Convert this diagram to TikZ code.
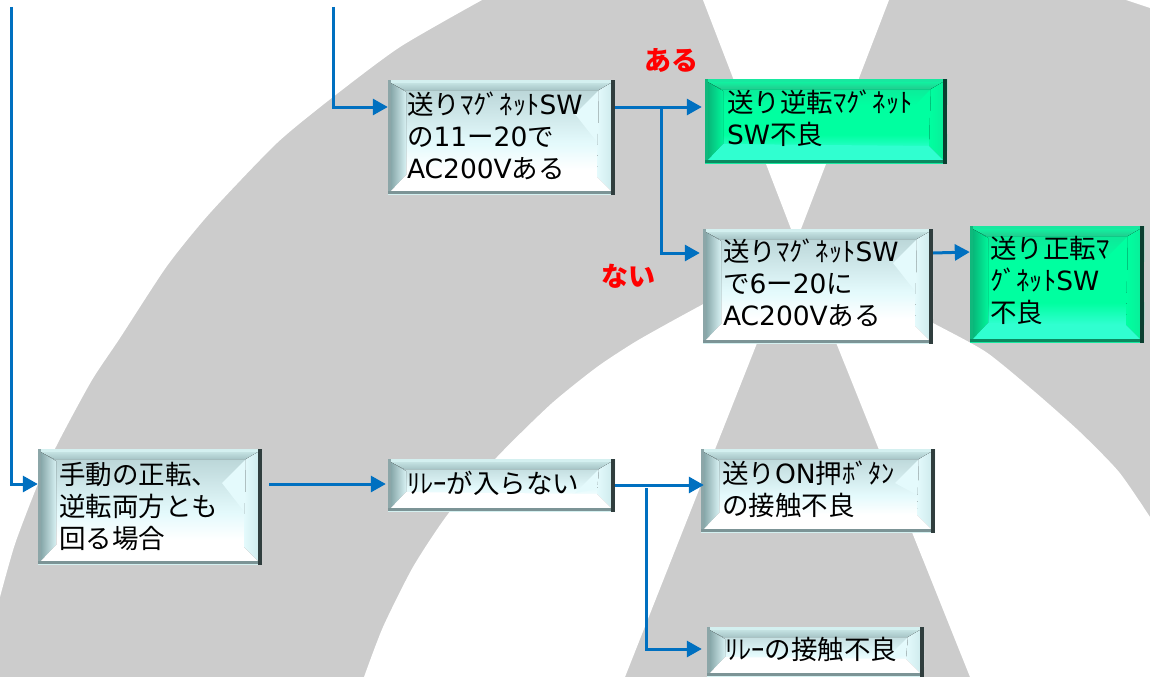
\documentclass[tikz,border=0pt]{standalone}
\usepackage{fontspec}
\usetikzlibrary{arrows.meta}
\setmainfont{Noto Sans CJK JP}
\newfontfamily\latf{DejaVu Sans}
\newcommand\la[1]{{\latf #1}}
% bevel palettes
\definecolor{cyFT}{HTML}{B4D0D2}\definecolor{cyFM}{HTML}{E4FAFC}\definecolor{cyFB}{HTML}{FFFFFF}
\definecolor{cyTA}{HTML}{C4E2E2}\definecolor{cyTB}{HTML}{A6C4C6}
\definecolor{cyLA}{HTML}{88A8AA}\definecolor{cyLB}{HTML}{D6F0F2}
\definecolor{cyRA}{HTML}{E4FAFC}\definecolor{cyRB}{HTML}{D0ECEE}
\definecolor{cyRim}{HTML}{D4F0F0}\definecolor{cyEL}{HTML}{8CA6A8}
\definecolor{cyER}{HTML}{303E3E}\definecolor{cyEB}{HTML}{7C9496}
\def\cystopA{.55}\def\cystopB{.56}\def\cystopC{.78}
\definecolor{grFT}{HTML}{12E096}\definecolor{grFM}{HTML}{00FFA0}\definecolor{grFB}{HTML}{30FFD0}
\definecolor{grTA}{HTML}{12F0A0}\definecolor{grTB}{HTML}{22CC8E}
\definecolor{grLA}{HTML}{08B87A}\definecolor{grLB}{HTML}{00F59A}
\definecolor{grRA}{HTML}{00FFA0}\definecolor{grRB}{HTML}{08F09A}
\definecolor{grRim}{HTML}{18E8A0}\definecolor{grEL}{HTML}{10B87C}
\definecolor{grER}{HTML}{0A3F30}\definecolor{grEB}{HTML}{0A8A60}
\def\grstopA{.3}\def\grstopB{.66}\def\grstopC{.84}
\definecolor{bgGray}{HTML}{CCCCCC}
\definecolor{lnBlue}{HTML}{0070C0}
\newcommand\bevelpic[3]{% palette, x1, y1
  \pgfmathsetmacro\ya{\bh*\csname #1stopA\endcsname}%
  \pgfmathsetmacro\yb{\bh*\csname #1stopB\endcsname}%
  \pgfmathsetmacro\yc{\bh*\csname #1stopC\endcsname}%
  \begin{scope}[shift={(#2,#3)}]
    \fill[#1FB] (0,0) rectangle (\bw,\bh);
    \fill[top color=#1FM,bottom color=#1FB] (0,\yb-0.5) rectangle (\bw,\yc);
    \fill[#1FM] (0,\ya-0.5) rectangle (\bw,\yb);
    \fill[top color=#1FT,bottom color=#1FM] (0,0) rectangle (\bw,\ya);
    % lighter wedge at the upper right of the face
    \fill[#1FM] (\bw-16,10) -- (\bw-40,34) -- (\bw-16,\yb) -- cycle;
    \fill[left color=#1LA,right color=#1LB] (3,3) -- (18,12) -- (18,\bh-20) -- (3,\bh-4) -- cycle;
    \fill[top color=#1TA,bottom color=#1TB] (3,3) -- (\bw-4,3) -- (\bw-16,10) -- (16,10) -- cycle;
    \fill[left color=#1RA,right color=#1RB] (\bw-4,3) -- (\bw-4,\bh-4) -- (\bw-18,\bh-18) -- (\bw-16,10) -- cycle;
    \fill[#1FB] (3,\bh-4) -- (18,\bh-20) -- (\bw-18,\bh-18) -- (\bw-4,\bh-4) -- cycle;
    \fill[#1Rim] (0,0) rectangle (\bw,3);
    \fill[#1EL] (0,0) rectangle (3,\bh);
    \fill[#1EB] (0,\bh-4) rectangle (\bw,\bh-1);
    \fill[#1Rim] (0,\bh-1) rectangle (\bw,\bh);
    \fill[#1ER] (\bw-4,0) rectangle (\bw,\bh);
  \end{scope}}
\tikzset{
  bevelbox/.style={rectangle,inner xsep=0pt,inner ysep=0pt,align=left,font=\fontsize{26.5}{32}\selectfont,text=black},
  flow/.style={draw=lnBlue,line width=3pt,-{Triangle[length=15pt,width=16pt]}},
  answer/.style={text=red,font=\fontsize{27}{32}\selectfont\bfseries}
}
% name, x1, y1, x2, y2, palette, pad, lift, text
\newcommand\bx[9]{%
  \pgfmathsetmacro\bw{#4-#2}\pgfmathsetmacro\bh{#5-#3}%
  \pgfmathsetmacro\bcx{(#2+#4)/2}\pgfmathsetmacro\bcy{(#3+#5)/2}%
  \pgfmathsetmacro\btw{\bw-2*#7}\pgfmathsetmacro\bsk{2*#8}%
  \bevelpic{#6}{#2}{#3}%
  \node[bevelbox,minimum width=\bw pt,minimum height=\bh pt,text width=\btw pt] (#1) at (\bcx,\bcy) {#9\par\nointerlineskip\kern\bsk pt\hbox{}};}
\begin{document}
\begin{tikzpicture}[x=1pt,y=-1pt]
\useasboundingbox (0,0) rectangle (1150,677);
\begin{scope}
\clip (0,0) rectangle (1150,677);
\fill[bgGray] (0,0) rectangle (1150,677);
\fill[white] (0,0) -- (482,0) -- plot[smooth,tension=.4] coordinates {(482,0) (400,47) (333,97) (277,143) (210,213) (167,266) (120,338) (92,380) (61,437) (38,484) (15,544) (0,597)} -- cycle;
\fill[white] (625,677) -- (778,290) -- (720,295) -- plot[smooth,tension=.4] coordinates {(720,295) (674,320) (635,342) (597,367) (551,404) (497,457) (448,514) (413,567) (383,627) (364,677)} -- cycle;
\fill[white] (970,677) -- (815,290) -- (900,305) -- plot[smooth,tension=.4] coordinates {(900,305) (933,323) (986,352) (1035,392) (1080,432) (1119,472) (1150,517)} -- (1150,677) -- cycle;
\fill[white] (703,0) -- (796,242) -- (889,0) -- cycle;
\fill[white] (1126,0) -- (1150,8) -- (1150,0) -- cycle;
\end{scope}
% boxes
\bx{bA}{388}{80}{615}{195}{cy}{19}{2}{送りﾏｸﾞﾈｯﾄ\la{SW}\\の\la{11}ー\la{20}で\\\la{AC200V}ある}
\bx{gA}{705}{79}{947}{164}{gr}{22}{3}{送り逆転ﾏｸﾞﾈｯﾄ\\\la{SW}不良}
\bx{bB}{703}{229}{933}{344}{cy}{20}{4}{送りﾏｸﾞﾈｯﾄ\la{SW}\\で\la{6}ー\la{20}に\\\la{AC200V}ある}
\bx{gB}{970}{226}{1144}{343}{gr}{20}{4.5}{送り正転ﾏ\\ｸﾞﾈｯﾄ\la{SW}\\不良}
\bx{bC}{38}{449}{262}{565}{cy}{21}{0.5}{手動の正転、\\逆転両方とも\\回る場合}
\bx{bD}{388}{459}{615}{512}{cy}{19}{2}{ﾘﾚｰが入らない}
\bx{bE}{701}{449}{935}{533}{cy}{21}{2}{送り\la{ON}押ﾎﾞﾀﾝ\\の接触不良}
\bx{bF}{707}{627}{924}{677}{cy}{18}{3}{ﾘﾚｰの接触不良}
\node[answer] (ansYes) at (671,60) {ある};
\node[answer] (ansNo) at (628,276) {ない};
% free ends and junctions
\coordinate (topA) at (11,7);
\coordinate (topB) at (333,7);
\coordinate (jA) at (661,107);
\coordinate (jB) at (646,488);
% connectors
\draw[flow] (topA) |- (bC.west |- 0,484);
\draw[flow] (topB) |- (bA.west |- 0,107);
\draw[flow] (bA.east |- 0,107) -- ([xshift=-3pt]gA.west |- 0,107);
\draw[flow] (jA) |- ([xshift=-3pt]bB.west |- 0,253);
\draw[flow] (bB.east |- 0,253) -- (gB.west |- 0,252);
\draw[flow] ([xshift=7pt]bC.east |- 0,484) -- ([xshift=-2pt]bD.west |- 0,484);
\draw[flow] (bD.east |- 0,485) -- ([xshift=3pt]bE.west |- 0,485);
\draw[flow] (jB) |- ([xshift=-5pt]bF.west |- 0,649);
\end{tikzpicture}
\end{document}
